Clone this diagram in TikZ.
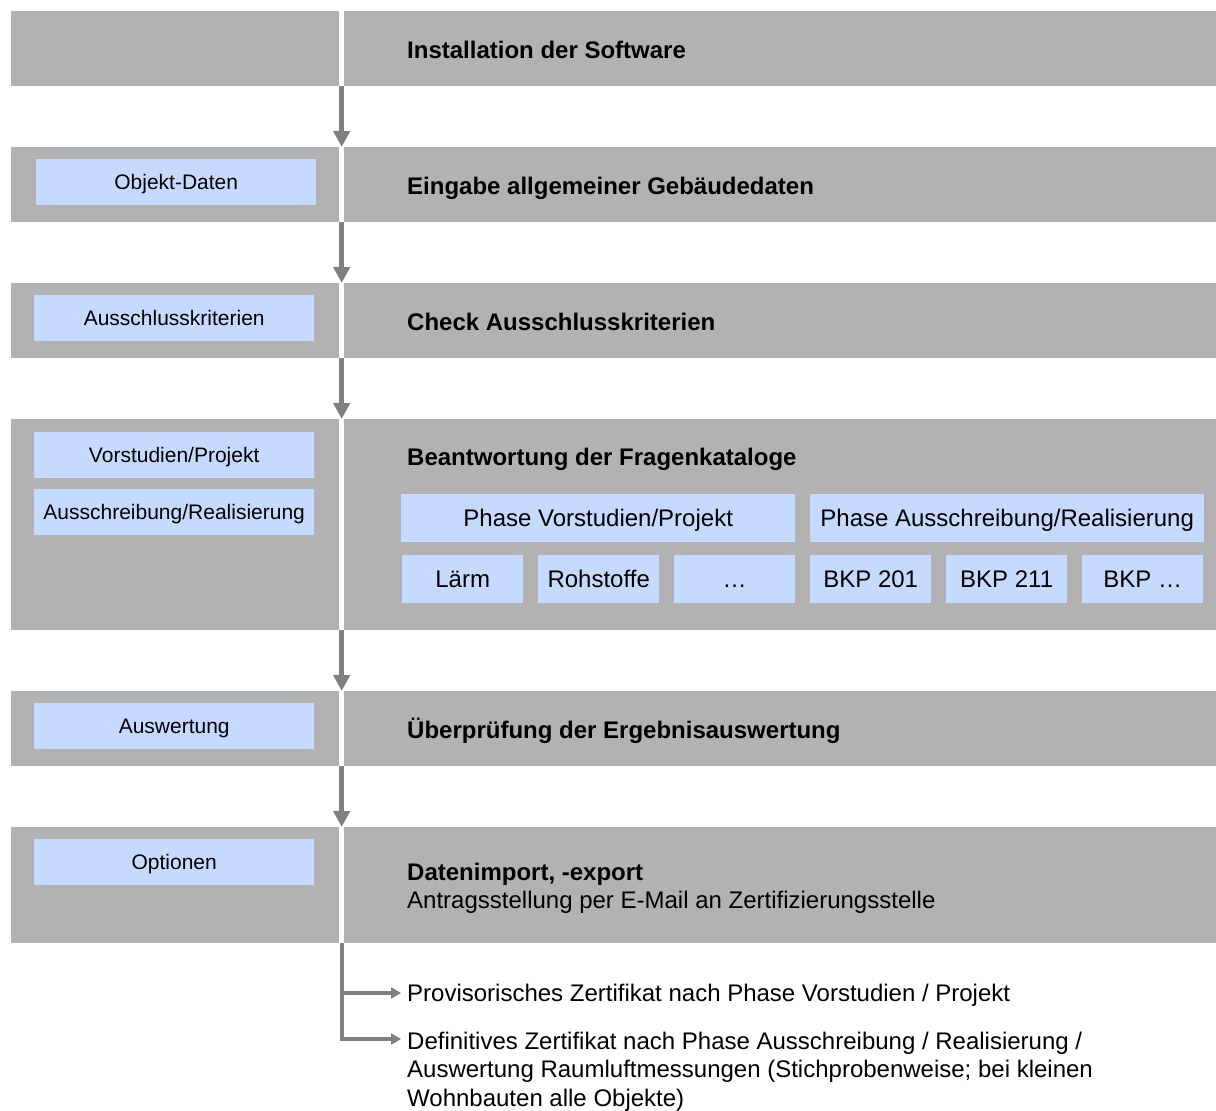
\documentclass[tikz,border=0pt]{standalone}
\usepackage{fontspec}
\setmainfont{Liberation Sans}
\usetikzlibrary{arrows.meta,calc}
\definecolor{bandgray}{RGB}{178,178,178}
\definecolor{arrowgray}{RGB}{128,128,128}
\definecolor{boxblue}{RGB}{198,217,255}
\tikzset{
  band/.style={fill=bandgray, draw=none, inner sep=0pt, anchor=north west},
  bluebox/.style={fill=boxblue, draw=none, inner sep=0pt, anchor=north west,
    minimum width=280pt, minimum height=46pt, text height=15.1pt, text depth=0.4pt,
    font=\fontsize{21}{25}\selectfont},
  bluebig/.style={bluebox, minimum height=48pt, text height=17.3pt, text depth=0.5pt,
    font=\fontsize{24}{28}\selectfont},
  titletext/.style={anchor=base west, inner sep=0pt, font=\bfseries\fontsize{24}{28.5}\selectfont},
  bodytext/.style={anchor=base west, inner sep=0pt, font=\fontsize{24}{28.5}\selectfont},
  flow/.style={draw=arrowgray, line width=5pt, -{Triangle[width=16pt,length=16pt]}},
  branch/.style={draw=arrowgray, line width=4pt, -{Triangle[width=11pt,length=10pt]}},
}
\begin{document}
\begin{tikzpicture}[x=1pt,y=-1pt]
\useasboundingbox (0,0) rectangle (1216,1111);
% bands
\node[band, minimum width=328pt, minimum height=75pt] (r1L) at (11,11) {};
\node[band, minimum width=872pt, minimum height=75pt] (r1R) at (344,11) {};
\node[band, minimum width=328pt, minimum height=75pt] (r2L) at (11,147) {};
\node[band, minimum width=872pt, minimum height=75pt] (r2R) at (344,147) {};
\node[band, minimum width=328pt, minimum height=75pt] (r3L) at (11,283) {};
\node[band, minimum width=872pt, minimum height=75pt] (r3R) at (344,283) {};
\node[band, minimum width=328pt, minimum height=211pt] (r4L) at (11,419) {};
\node[band, minimum width=872pt, minimum height=211pt] (r4R) at (344,419) {};
\node[band, minimum width=328pt, minimum height=75pt] (r5L) at (11,691) {};
\node[band, minimum width=872pt, minimum height=75pt] (r5R) at (344,691) {};
\node[band, minimum width=328pt, minimum height=116pt] (r6L) at (11,827) {};
\node[band, minimum width=872pt, minimum height=116pt] (r6R) at (344,827) {};
% titles
\node[titletext] (t1) at (407,58) {Installation der Software};
\node[titletext] (t2) at (407,194) {Eingabe allgemeiner Gebäudedaten};
\node[titletext] (t3) at (407,330) {Check Ausschlusskriterien};
\node[titletext] (t4) at (407,465) {Beantwortung der Fragenkataloge};
\node[titletext] (t5) at (407,738) {Überprüfung der Ergebnisauswertung};
\node[titletext] (t6) at (407,880) {Datenimport, -export};
\node[bodytext] (t6b) at (407,908) {Antragsstellung per E-Mail an Zertifizierungsstelle};
% left blue boxes
\node[bluebox] (obj) at (36,159) {Objekt-Daten};
\node[bluebox] (aus) at (34,295) {Ausschlusskriterien};
\node[bluebox] (vor) at (34,432) {Vorstudien/Projekt};
\node[bluebox] (ausr) at (34,489) {Ausschreibung/Realisierung};
\node[bluebox] (ausw) at (34,703) {Auswertung};
\node[bluebox] (opt) at (34,839) {Optionen};
% right blue boxes
\node[bluebig, minimum width=394pt] (phV) at (401,494) {Phase Vorstudien/Projekt};
\node[bluebig, minimum width=394pt] (phA) at (810,494) {Phase Ausschreibung/Realisierung};
\node[bluebig, minimum width=121pt] (k1) at (402,555) {Lärm};
\node[bluebig, minimum width=121pt] (k2) at (538,555) {Rohstoffe};
\node[bluebig, minimum width=121pt] (k3) at (674,555) {…};
\node[bluebig, minimum width=121pt] (k4) at (810,555) {BKP 201};
\node[bluebig, minimum width=121pt] (k5) at (946,555) {BKP 211};
\node[bluebig, minimum width=121pt] (k6) at (1082,555) {BKP …};
% flow arrows
\draw[flow] ($(r1L.south east)!0.5!(r1R.south west)$) -- ($(r2L.north east)!0.5!(r2R.north west)$);
\draw[flow] ($(r2L.south east)!0.5!(r2R.south west)$) -- ($(r3L.north east)!0.5!(r3R.north west)$);
\draw[flow] ($(r3L.south east)!0.5!(r3R.south west)$) -- ($(r4L.north east)!0.5!(r4R.north west)$);
\draw[flow] ($(r4L.south east)!0.5!(r4R.south west)$) -- ($(r5L.north east)!0.5!(r5R.north west)$);
\draw[flow] ($(r5L.south east)!0.5!(r5R.south west)$) -- ($(r6L.north east)!0.5!(r6R.north west)$);
% result texts
\node[bodytext] (res1) at (407,1001) {Provisorisches Zertifikat nach Phase Vorstudien / Projekt};
\node[anchor=north west, inner sep=0pt, align=left, font=\fontsize{24}{28.5}\selectfont] (res2) at (407,1031.5)
  {Definitives Zertifikat nach Phase Ausschreibung / Realisierung /\\
   Auswertung Raumluftmessungen (Stichprobenweise; bei kleinen\\
   Wohnbauten alle Objekte)};
\coordinate (g6) at ($(r6L.south east)!0.5!(r6R.south west)$);
\coordinate (e1) at (401,993);
\coordinate (e2) at (401,1039);
\draw[branch] (g6) |- (e1);
\draw[branch] (g6) |- (e2);
\end{tikzpicture}
\end{document}
